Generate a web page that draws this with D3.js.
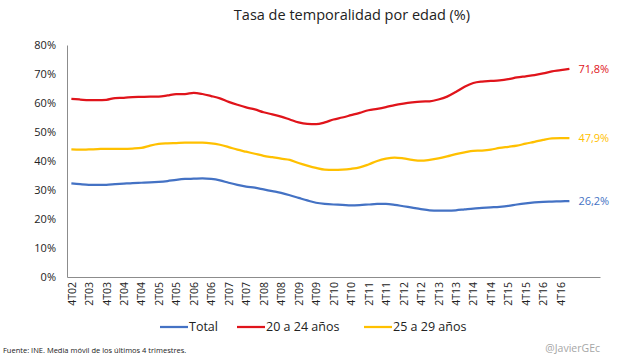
<!DOCTYPE html>
<head>
    <meta charset="utf-8">
    <script src="https://d3js.org/d3.v7.min.js"></script>
    <style>
        body { margin: 0; background: #fff; }
        text { font-family: "Open Sans", "DejaVu Sans", sans-serif; }
    </style>
</head>
<body>
    <svg width="627" height="364"></svg>
    <script>
        // quarterly, 4T02 .. 1T17 (moving average of last 4 quarters)
        var tickLabels = ["4T02", "2T03", "4T03", "2T04", "4T04", "2T05", "4T05", "2T06", "4T06", "2T07",
            "4T07", "2T08", "4T08", "2T09", "4T09", "2T10", "4T10", "2T11", "4T11", "2T12",
            "4T12", "2T13", "4T13", "2T14", "4T14", "2T15", "4T15", "2T16", "4T16"];
        var slots = 61; // category slots on the axis (last ones are empty)

        var total = [32.3, 32.0, 31.8, 31.8, 31.8, 32.0, 32.2, 32.4, 32.5, 32.6,
            32.8, 33.1, 33.5, 33.8, 33.9, 34.0, 33.8, 33.3, 32.5, 31.8,
            31.2, 30.8, 30.2, 29.6, 29.0, 28.2, 27.3, 26.4, 25.6, 25.2,
            25.0, 24.9, 24.7, 24.8, 25.0, 25.2, 25.2, 24.9, 24.4, 23.9,
            23.4, 23.0, 22.9, 22.9, 23.0, 23.3, 23.6, 23.8, 24.0, 24.2,
            24.5, 25.0, 25.4, 25.7, 25.9, 26.0, 26.1, 26.2];
        var age20_24 = [61.4, 61.2, 61.0, 61.0, 61.1, 61.7, 61.8, 62.0, 62.1, 62.2,
            62.2, 62.6, 63.1, 63.1, 63.5, 63.1, 62.4, 61.6, 60.4, 59.4,
            58.5, 57.8, 56.8, 56.1, 55.3, 54.3, 53.3, 52.8, 52.7, 53.3,
            54.3, 55.0, 55.8, 56.6, 57.5, 58.0, 58.6, 59.3, 59.8, 60.2,
            60.5, 60.6, 61.2, 62.2, 63.8, 65.6, 66.9, 67.4, 67.6, 67.8,
            68.2, 68.8, 69.2, 69.6, 70.2, 70.9, 71.3, 71.8];
        var age25_29 = [44.0, 43.9, 44.0, 44.1, 44.2, 44.2, 44.2, 44.3, 44.5, 45.3,
            45.9, 46.1, 46.2, 46.3, 46.3, 46.3, 46.1, 45.6, 44.8, 43.9,
            43.2, 42.5, 41.8, 41.3, 40.8, 40.4, 39.3, 38.4, 37.6, 37.0,
            36.9, 37.0, 37.3, 37.8, 38.8, 40.0, 40.8, 41.2, 40.9, 40.4,
            40.1, 40.4, 40.9, 41.6, 42.4, 43.0, 43.5, 43.6, 43.9, 44.5,
            44.9, 45.3, 46.0, 46.6, 47.3, 47.8, 47.9, 47.9];
        var yTicks = [0, 10, 20, 30, 40, 50, 60, 70, 80];

        var series = [
            { name: "Total", values: total, color: "#4472c4" },
            { name: "20 a 24 años", values: age20_24, color: "#e0141b" },
            { name: "25 a 29 años", values: age25_29, color: "#ffc000" }
        ];

        var svg = d3.select("svg");
        var mLeft = 67, mRight = 600, mTop = 45, mBottom = 277;

        var x = d3.scaleLinear().domain([-0.5, slots - 0.5]).range([mLeft, mRight]);
        var y = d3.scaleLinear().domain([0, 80]).range([mBottom, mTop]);

        svg.append("text")
            .attr("x", 352).attr("y", 20)
            .attr("text-anchor", "middle")
            .attr("font-size", 14.5)
            .attr("fill", "#222")
            .text("Tasa de temporalidad por edad (%)");

        // y axis
        var yAxis = svg.append("g")
            .attr("transform", "translate(" + mLeft + ",0)")
            .call(d3.axisLeft(y).tickValues(yTicks).tickSize(0).tickPadding(11)
                .tickFormat(d => d + "%"));
        yAxis.select(".domain").attr("stroke", "#8c8c8c");
        yAxis.selectAll("text").attr("font-size", 11).attr("fill", "#222");

        // x axis
        var xAxis = svg.append("g")
            .attr("transform", "translate(0," + mBottom + ")")
            .call(d3.axisBottom(x).tickValues(tickLabels.map((d, i) => i * 2)).tickSize(0)
                .tickFormat((d, i) => tickLabels[i]));
        xAxis.select(".domain").attr("stroke", "#8c8c8c");
        xAxis.selectAll("text")
            .attr("font-size", 10.5)
            .attr("fill", "#222")
            .attr("transform", "rotate(-90)")
            .attr("text-anchor", "end")
            .attr("x", -5)
            .attr("y", 0)
            .attr("dy", "0.35em");

        var line = d3.line()
            .x((d, i) => x(i))
            .y(d => y(d))
            .curve(d3.curveMonotoneX);

        svg.append("g").selectAll("path")
            .data(series)
            .join("path")
            .attr("d", d => line(d.values))
            .attr("fill", "none")
            .attr("stroke", d => d.color)
            .attr("stroke-width", 2.25);

        // end labels
        svg.append("g").selectAll("text")
            .data(series)
            .join("text")
            .attr("x", d => x(d.values.length - 1) + 9)
            .attr("y", d => y(d.values[d.values.length - 1]))
            .attr("dy", "0.35em")
            .attr("font-size", 11)
            .attr("fill", d => d.color)
            .text(d => d3.format(".1f")(d.values[d.values.length - 1]).replace(".", ",") + "%");

        // legend
        var legendX = [160, 237, 364];
        var legend = svg.append("g").selectAll("g")
            .data(series)
            .join("g")
            .attr("transform", (d, i) => "translate(" + legendX[i] + ",327)");
        legend.append("line")
            .attr("x1", 0).attr("x2", 28)
            .attr("stroke", d => d.color)
            .attr("stroke-width", 2.25);
        legend.append("text")
            .attr("x", 29).attr("dy", "0.35em")
            .attr("font-size", 12.5)
            .attr("fill", "#222")
            .text(d => d.name);

        svg.append("text")
            .attr("x", 3).attr("y", 353)
            .attr("font-size", 7.5)
            .attr("fill", "#222")
            .text("Fuente: INE. Media móvil de los últimos 4 trimestres.");

        svg.append("text")
            .attr("x", 600).attr("y", 352)
            .attr("text-anchor", "end")
            .attr("font-size", 10.5)
            .attr("fill", "#a6a6a6")
            .text("@JavierGEc");
    </script>
</body>
